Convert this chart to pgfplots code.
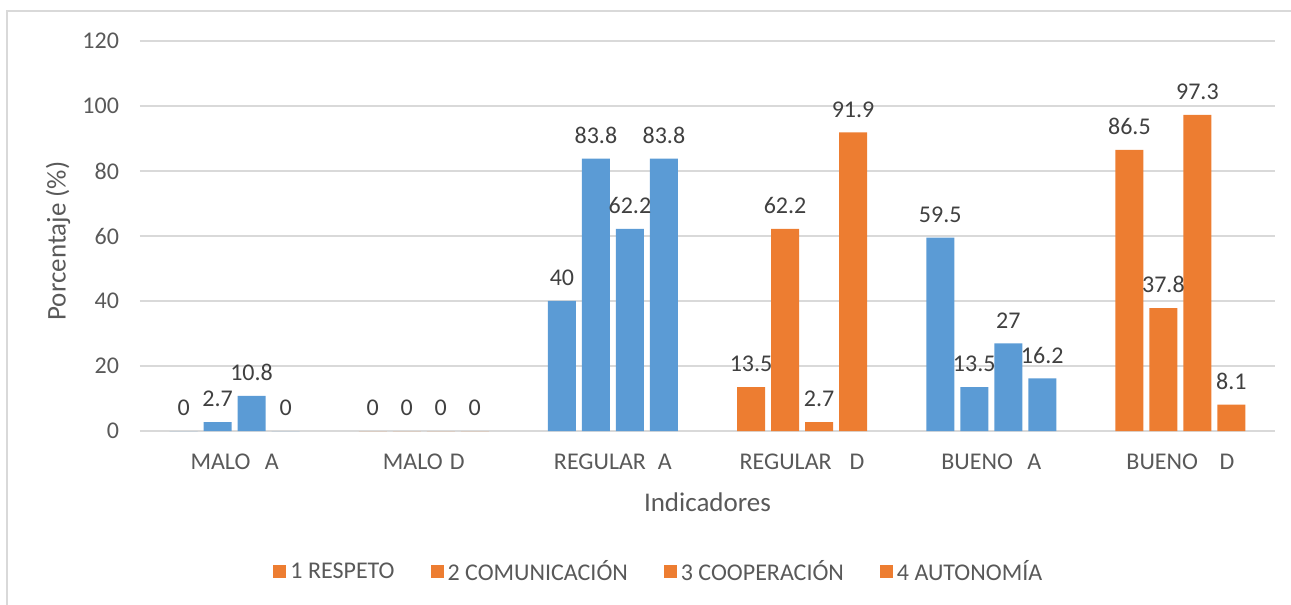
\documentclass[border=0pt]{standalone}
\usepackage{fontspec}
\setmainfont{Carlito}
\usepackage{pgfplots}
\pgfplotsset{compat=1.18}
\definecolor{azul}{HTML}{5B9BD5}
\definecolor{naranja}{HTML}{ED7D31}
\definecolor{rejilla}{HTML}{D9D9D9}
\definecolor{texto}{HTML}{595959}
\definecolor{etiqueta}{HTML}{404040}
\newcommand{\fnt}{\fontsize{12}{14}\selectfont}
\newcommand{\fnttit}{\fontsize{13.5}{16}\selectfont}

\begin{document}
\begin{tikzpicture}
\useasboundingbox (-70pt,-87pt) rectangle (575.5pt,215.5pt);
% chart border (left and top visible)
\draw[rejilla, line width=0.75pt] (-66.5pt,-95pt) -- (-66.5pt,210pt) -- (590pt,210pt);
\begin{axis}[
    at={(0,0)}, anchor=south west,
    scale only axis,
    width=567.5pt, height=195pt,
    ybar, bar width=14pt,
    xmin=-0.5, xmax=5.5,
    ymin=0, ymax=120,
    ytick={0,20,...,120},
    xtick={0,...,5},
    xticklabels={MALO\hspace{0.6em}A, MALO\hspace{0.3em}D, REGULAR\hspace{0.5em}A,
                 REGULAR\hspace{0.75em}D, BUENO\hspace{0.6em}A, BUENO\hspace{0.9em}D},
    /pgf/number format/assume math mode=true,
    axis line style={draw=none},
    major tick length=0pt,
    ymajorgrids, grid style={rejilla, line width=0.75pt},
    tick label style={font=\fnt, text=texto},
    yticklabel style={xshift=-7pt},
    xticklabel style={yshift=-8pt},
    ylabel={Porcentaje (\%)},
    ylabel style={at={(axis description cs:-0.0722,0.487)}, anchor=center, font=\fnttit, text=texto},
    xlabel={Indicadores},
    xlabel style={at={(axis description cs:0.5,-0.182)}, anchor=center, font=\fnttit, text=texto},
    nodes near coords,
    every node near coord/.append style={font=\fnt, text=etiqueta, yshift=4pt},
    legend columns=4,
    legend style={at={(axis description cs:0.458,-0.3615)}, anchor=center, draw=none,
                  font=\fnt, text=texto,
                  /tikz/every even column/.append style={column sep=16pt}},
    legend image code/.code={\fill[#1, draw=none] (0pt,-3.25pt) rectangle (6.5pt,3.25pt);},
    clip=false,
  ]

  % grupos D (naranja) - entran en la leyenda
  \addplot[fill=naranja, draw=none, bar shift=-25.5pt] coordinates {(1,0) (3,13.5) (5,86.5)};
  \addplot[fill=naranja, draw=none, bar shift=-8.5pt]  coordinates {(1,0) (3,62.2) (5,37.8)};
  \addplot[fill=naranja, draw=none, bar shift=8.5pt]   coordinates {(1,0) (3,2.7)  (5,97.3)};
  \addplot[fill=naranja, draw=none, bar shift=25.5pt]  coordinates {(1,0) (3,91.9) (5,8.1)};

  % grupos A (azul)
  \addplot[forget plot, fill=azul, draw=none, bar shift=-25.5pt] coordinates {(0,0)    (2,40)   (4,59.5)};
  \addplot[forget plot, fill=azul, draw=none, bar shift=-8.5pt]  coordinates {(0,2.7)  (2,83.8) (4,13.5)};
  \addplot[forget plot, fill=azul, draw=none, bar shift=8.5pt]   coordinates {(0,10.8) (2,62.2) (4,27)};
  \addplot[forget plot, fill=azul, draw=none, bar shift=25.5pt]  coordinates {(0,0)    (2,83.8) (4,16.2)};

  \legend{1 RESPETO, 2 COMUNICACIÓN, 3 COOPERACIÓN, 4 AUTONOMÍA}
\end{axis}
\end{tikzpicture}
\end{document}
